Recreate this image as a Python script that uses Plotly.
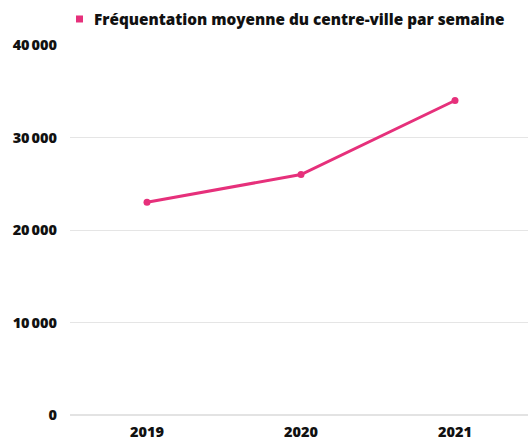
import plotly.graph_objects as go

years = ["2019", "2020", "2021"]
frequentation = [23000, 26000, 34000]
series_name = "Fréquentation moyenne du centre-ville par semaine"
y_ticks = [0, 10000, 20000, 30000, 40000]

pink = "#E6307B"
font_family = "Open Sans, Noto Sans, sans-serif"

fig = go.Figure()
fig.add_trace(go.Scatter(
    x=years, y=frequentation, mode="lines+markers",
    line=dict(color=pink, width=3), marker=dict(color=pink, size=7),
    showlegend=False, name=series_name,
))

# legend drawn as a square + text
fig.add_shape(
    type="rect", xref="paper", yref="paper",
    xsizemode="pixel", ysizemode="pixel",
    xanchor=0.0207, yanchor=1.0703,
    x0=-3.5, x1=3.5, y0=-3.5, y1=3.5,
    fillcolor=pink, line=dict(width=0),
)
fig.add_annotation(
    text=series_name, xref="paper", yref="paper",
    x=0.048, y=1.0703, xanchor="left", yanchor="middle", showarrow=False,
    font=dict(family=font_family, size=15.3, color="#111111", weight=800),
)

fig.update_layout(
    width=528, height=441,
    margin=dict(l=70, r=0, t=45, b=26),
    paper_bgcolor="white", plot_bgcolor="white",
    separators=",\u202f",
    font=dict(family=font_family, color="#111111", size=12),
    showlegend=False,
    xaxis=dict(
        type="category", range=[-0.5, 2.474], showgrid=False, zeroline=False,
        showline=False, ticks="", ticklabelstandoff=6,
        tickfont=dict(family=font_family, size=14.5, color="#111111", weight=800),
    ),
    yaxis=dict(
        range=[0, 40000], tickvals=y_ticks, tickformat=",d",
        showgrid=True, gridcolor="#e5e5e5", gridwidth=1,
        zeroline=True, zerolinecolor="#e3e3e3", zerolinewidth=2,
        showline=False, ticks="", ticklabelstandoff=12,
        tickfont=dict(family=font_family, size=14.5, color="#111111", weight=800),
    ),
)

fig.write_html("out.html", config={"displayModeBar": False},
               post_script="document.body.style.margin='0';")
